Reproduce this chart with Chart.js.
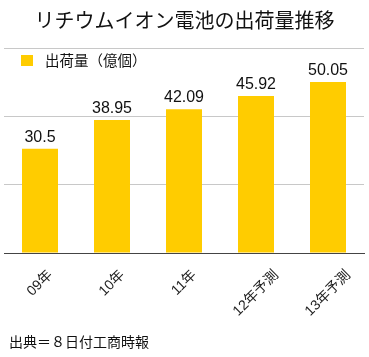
<!DOCTYPE html>
<html><head><meta charset="utf-8">
<script src="https://cdn.jsdelivr.net/npm/chart.js@4"></script>
<style>
html,body{margin:0;padding:0;background:#fff;}
#wrap{position:relative;width:369px;height:357px;}
#title{position:absolute;left:0;top:5px;width:369px;text-align:center;font:20px "Noto Sans CJK JP";color:#111;}
#src{position:absolute;left:9px;top:331px;font:14px "Noto Sans CJK JP";color:#111;}
#c{position:absolute;left:0;top:0;}
</style></head>
<body><div id="wrap">
<canvas id="c" width="369" height="357"></canvas>
<div id="title">リチウムイオン電池の出荷量推移</div>
<div id="src">出典＝８日付工商時報</div>
</div>
<script>
const categories = ["09年","10年","11年","12年予測","13年予測"];
const values = [30.5, 38.95, 42.09, 45.92, 50.05];
const seriesName = "出荷量（億個）";
const yTicks = [0, 20, 40, 60];

const FONT = 'Helvetica, Arial, "Liberation Sans", "Noto Sans CJK JP", sans-serif';

const labelPlugin = {
  id: 'valueLabels',
  afterDatasetsDraw(chart){
    const ctx = chart.ctx;
    const meta = chart.getDatasetMeta(0);
    ctx.save();
    ctx.font = '16px ' + FONT;
    ctx.fillStyle = '#111';
    ctx.textAlign = 'center';
    ctx.textBaseline = 'alphabetic';
    meta.data.forEach((bar, i) => {
      ctx.fillText(String(chart.data.datasets[0].data[i]), bar.x, bar.y - 7);
    });
    ctx.restore();
  }
};
const xLabelPlugin = {
  id: 'xLabels',
  afterDraw(chart){
    const ctx = chart.ctx;
    const xs = chart.scales.x;
    const s = 14;
    ctx.save();
    ctx.font = s + 'px ' + FONT;
    ctx.fillStyle = '#222';
    ctx.textAlign = 'center';
    ctx.textBaseline = 'middle';
    chart.data.labels.forEach((lab, i) => {
      const x = xs.getPixelForValue(i);
      const w = ctx.measureText(lab).width;
      const half = (w + s) * 0.7071 / 2;
      const cy = chart.chartArea.bottom + 15 + half;
      ctx.save();
      ctx.translate(x, cy);
      ctx.rotate(-Math.PI / 4);
      ctx.fillText(lab, 0, 0);
      ctx.restore();
    });
    ctx.restore();
  }
};
const legendPlugin = {
  id: 'innerLegend',
  afterDraw(chart){
    const ctx = chart.ctx;
    const ds = chart.data.datasets[0];
    ctx.save();
    ctx.fillStyle = ds.backgroundColor;
    ctx.fillRect(21, 55, 12, 11);
    ctx.font = '14.5px "Noto Sans CJK JP"';
    ctx.fillStyle = '#111';
    ctx.textBaseline = 'middle';
    ctx.fillText(ds.label, 45, 60);
    ctx.restore();
  }
};

new Chart(document.getElementById('c'), {
  type: 'bar',
  data: {
    labels: categories,
    datasets: [{
      label: seriesName,
      data: values,
      backgroundColor: '#FFCC00',
      barPercentage: 0.5,
      categoryPercentage: 1.0
    }]
  },
  options: {
    responsive: false,
    animation: false,
    layout: { padding: { top: 48, left: 4, right: 5, bottom: 96 } },
    plugins: { legend: { display: false }, tooltip: { enabled: false }, title: { display: false } },
    scales: {
      x: {
        grid: { display: false },
        border: { color: '#444', width: 1 },
        ticks: { display: false }
      },
      y: {
        min: yTicks[0], max: yTicks[yTicks.length-1],
        afterBuildTicks(axis){ axis.ticks = yTicks.map(v => ({value: v})); },
        ticks: { display: false },
        border: { display: false },
        grid: { color: '#c8c8c8', drawTicks: false }
      }
    }
  },
  plugins: [labelPlugin, xLabelPlugin, legendPlugin]
});
</script>
</body></html>
